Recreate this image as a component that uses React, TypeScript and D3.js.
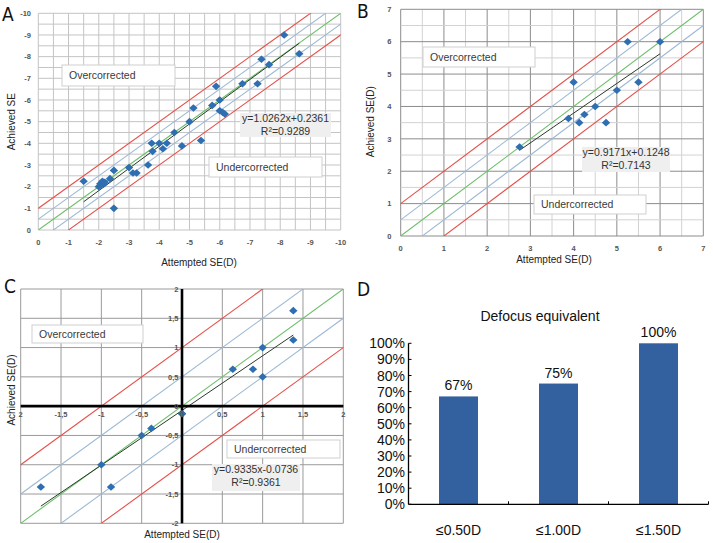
import React from 'react';
import * as d3 from 'd3';

// ---------- Data ----------
const aAttempted = [-1.5, -2.0, -2.05, -2.12, -2.15, -2.2, -2.37, -2.5, -2.5, -3.0, -3.13, -3.25, -3.63, -3.75, -3.78, -4.0, -4.12, -4.25, -4.5, -4.75, -5.0, -5.13, -5.38, -5.75, -5.88, -6.0, -6.0, -6.1, -6.17, -6.75, -7.25, -7.38, -7.63, -8.13, -8.63];
const aAchieved = [-2.25, -2.0, -2.13, -2.25, -2.1, -2.2, -2.37, -2.75, -1.0, -2.88, -2.63, -2.63, -3.0, -4.0, -3.63, -4.0, -3.75, -4.0, -4.5, -3.88, -5.0, -5.63, -4.13, -5.75, -6.63, -6.0, -5.5, -5.42, -5.35, -6.75, -6.75, -7.88, -7.63, -9.0, -8.13];

const bAttempted = [2.75, 3.88, 4.0, 4.13, 4.25, 4.5, 4.75, 5.0, 5.25, 5.5, 6.0];
const bAchieved = [2.75, 3.63, 4.75, 3.5, 3.75, 4.0, 3.5, 4.5, 6.0, 4.75, 6.0];

const cAttempted = [-1.75, -1.0, -0.88, -0.5, -0.38, 0.0, 0.63, 0.88, 1.0, 1.0, 1.38, 1.38];
const cAchieved = [-1.38, -1.0, -1.38, -0.5, -0.38, -0.13, 0.63, 0.63, 1.0, 0.5, 1.63, 1.13];

const regSlopes = [1.0262, 0.9171, 0.9335];
const regIntercepts = [0.2361, 0.1248, -0.0736];
const regR2 = ['0.9289', '0.7143', '0.9361'];

const aTicks = [0, -1, -2, -3, -4, -5, -6, -7, -8, -9, -10];
const bTicks = [0, 1, 2, 3, 4, 5, 6, 7];
const cTicks = [-2, -1.5, -1, -0.5, 0, 0.5, 1, 1.5, 2];
const cTickLabels = ['2', '-1,5', '-1', '-0,5', '0', '0,5', '1', '1,5', '2'];
const cYTickLabels = ['-2', '-1,5', '-1', '-0,5', '0', '0,5', '1', '1,5', '2'];

const diagOffsets = [-1, -0.5, 0, 0.5, 1];

const dCategories = ['≤0.50D', '≤1.00D', '≤1.50D'];
const dValues = [67, 75, 100];
const dTicks = [0, 10, 20, 30, 40, 50, 60, 70, 80, 90, 100];

// ---------- Styles ----------
const RED = '#e5514a';
const BLUE = '#9db9d4';
const GREEN = '#6cbf6a';
const DOT = '#2f6eb0';
const SANS = 'Arial, "Liberation Sans", Helvetica, sans-serif';
const COND = '"DejaVu Sans Condensed", "DejaVu Sans", sans-serif';

function diamond(x: number, y: number, key: string | number) {
  const w = 4.2, h = 3.8;
  return <path key={key} d={`M${x},${y - h}L${x + w},${y}L${x},${y + h}L${x - w},${y}Z`} fill={DOT} />;
}

type ScatterProps = {
  id: string;
  xRange: [number, number];
  yRange: [number, number];
  domain: [number, number];
  xs: number[];
  ys: number[];
  idx: number;
  gridColor: (v: number) => string;
  gridWidth: (v: number) => number;
};

function Scatter(p: ScatterProps) {
  const x = d3.scaleLinear().domain(p.domain).range(p.xRange);
  const y = d3.scaleLinear().domain(p.domain).range(p.yRange);
  const lo = Math.min(...p.domain), hi = Math.max(...p.domain);
  const grid = d3.range(lo, hi + 0.001, 0.5);
  const line = d3.line<[number, number]>().x(d => x(d[0])).y(d => y(d[1]));
  const s = regSlopes[p.idx], b = regIntercepts[p.idx];
  const xmin = d3.min(p.xs)!, xmax = d3.max(p.xs)!;
  const regLine = [xmin, xmax].map(v => [v, s * v + b] as [number, number]);
  const diagColor = (o: number) => (Math.abs(o) === 1 ? RED : o === 0 ? GREEN : BLUE);
  return (
    <g>
      <defs>
        <clipPath id={p.id}>
          <rect x={Math.min(...p.xRange)} y={Math.min(...p.yRange)} width={Math.abs(p.xRange[1] - p.xRange[0])} height={Math.abs(p.yRange[1] - p.yRange[0])} />
        </clipPath>
      </defs>
      {grid.map(v => (
        <line key={'gx' + v} x1={x(v)} x2={x(v)} y1={p.yRange[0]} y2={p.yRange[1]} stroke={p.gridColor(v)} strokeWidth={p.gridWidth(v)} />
      ))}
      {grid.map(v => (
        <line key={'gy' + v} y1={y(v)} y2={y(v)} x1={p.xRange[0]} x2={p.xRange[1]} stroke={p.gridColor(v)} strokeWidth={p.gridWidth(v)} />
      ))}
      <g clipPath={`url(#${p.id})`}>
        {diagOffsets.map(o => (
          <path key={'d' + o} d={line([[lo - 2, lo - 2 + o], [hi + 2, hi + 2 + o]])!} stroke={diagColor(o)} strokeWidth={1.1} fill="none" />
        ))}
      </g>
      <path d={line(regLine)!} stroke="#2a3a2a" strokeWidth={1} fill="none" />
      {p.xs.map((v, i) => diamond(x(v), y(p.ys[i]), i))}
    </g>
  );
}

function LabelBox({ x, y, w, h, text }: { x: number; y: number; w: number; h: number; text: string }) {
  return (
    <g>
      <rect x={x} y={y} width={w} height={h} fill="#fff" stroke="#cfcfcf" strokeWidth={1} />
      <text x={x + 7} y={y + h / 2 + 3.8} fontFamily={SANS} fontSize={10.5} fill="#3a3a3a">{text}</text>
    </g>
  );
}

function EqBox({ x, y, w, h, idx }: { x: number; y: number; w: number; h: number; idx: number }) {
  const b = regIntercepts[idx];
  const eq = `y=${regSlopes[idx]}x${b >= 0 ? '+' : '-'}${Math.abs(b).toFixed(4)}`;
  return (
    <g>
      <rect x={x} y={y} width={w} height={h} fill="#efefef" />
      <text x={x + w / 2} y={y + 9} textAnchor="middle" fontFamily={SANS} fontSize={10.5} fill="#333">{eq}</text>
      <text x={x + w / 2} y={y + 22} textAnchor="middle" fontFamily={SANS} fontSize={10.5} fill="#333">R²={regR2[idx]}</text>
    </g>
  );
}

export default function App() {
  // Panel A
  const ax = d3.scaleLinear().domain([0, -10]).range([38.3, 340.7]);
  const ay = d3.scaleLinear().domain([0, -10]).range([230, 13.3]);
  // Panel B
  const bx = d3.scaleLinear().domain([0, 7]).range([400.7, 703.3]);
  const by = d3.scaleLinear().domain([0, 7]).range([236, 9.3]);
  // Panel C
  const cx = d3.scaleLinear().domain([-2, 2]).range([20.7, 343.3]);
  const cy = d3.scaleLinear().domain([-2, 2]).range([523.3, 289]);
  // Panel D
  const dx = d3.scaleBand<string>().domain(dCategories).range([408.5, 708.5]).paddingInner(0.61).paddingOuter(0.305);
  const dy = d3.scaleLinear().domain([0, 100]).range([504.3, 343.3]);

  const tickStyle = { fontFamily: SANS, fontSize: 7.5, fontWeight: 700, fill: '#555' } as const;
  const titleStyle = { fontFamily: SANS, fontSize: 10, fill: '#222' } as const;

  return (
    <svg width={713} height={543} style={{ position: 'absolute', left: 0, top: 0, background: '#fff' }}>
      <rect width={713} height={543} fill="#fff" />

      {/* ---------- A ---------- */}
      <Scatter id="clipA" xRange={[38.3, 340.7]} yRange={[230, 13.3]} domain={[0, -10]} xs={aAttempted} ys={aAchieved} idx={0}
        gridColor={() => '#c4c4c4'} gridWidth={() => 1} />
      {aTicks.map(t => (
        <text key={'ayt' + t} x={31} y={ay(t) + 2.7} textAnchor="end" {...tickStyle}>{t}</text>
      ))}
      {aTicks.map(t => (
        <text key={'axt' + t} x={ax(t)} y={245} textAnchor="middle" {...tickStyle}>{t}</text>
      ))}
      <LabelBox x={62} y={65} w={113} h={21} text="Overcorrected" />
      <LabelBox x={209} y={157} w={113} h={20} text="Undercorrected" />
      <EqBox x={240} y={113} w={91} h={24} idx={0} />
      <text x={15} y={121.7} transform="rotate(-90 15 121.7)" textAnchor="middle" {...titleStyle}>Achieved SE</text>
      <text x={199} y={266} textAnchor="middle" {...titleStyle}>Attempted SE(D)</text>
      <text x={2} y={21} fontFamily={COND} fontSize={19} fill="#111">A</text>

      {/* ---------- B ---------- */}
      <Scatter id="clipB" xRange={[400.7, 703.3]} yRange={[236, 9.3]} domain={[0, 7]} xs={bAttempted} ys={bAchieved} idx={1}
        gridColor={v => (Number.isInteger(v) ? '#8c8c8c' : '#d2d2d2')} gridWidth={() => 1} />
      {bTicks.map(t => (
        <text key={'byt' + t} x={391.5} y={by(t) + 2.7} textAnchor="end" {...tickStyle}>{t}</text>
      ))}
      {bTicks.map(t => (
        <text key={'bxt' + t} x={bx(t)} y={251} textAnchor="middle" {...tickStyle}>{t}</text>
      ))}
      <LabelBox x={423} y={47} w={112} h={20} text="Overcorrected" />
      <LabelBox x={534} y={195} w={112} h={19} text="Undercorrected" />
      <EqBox x={582} y={147} w={88} h={25} idx={1} />
      <text x={374} y={121.7} transform="rotate(-90 374 121.7)" textAnchor="middle" {...titleStyle}>Achieved SE(D)</text>
      <text x={554} y={263} textAnchor="middle" {...titleStyle}>Attempted SE(D)</text>
      <text x={357} y={18} fontFamily={COND} fontSize={19} fill="#111">B</text>

      {/* ---------- C ---------- */}
      <Scatter id="clipC" xRange={[20.7, 343.3]} yRange={[523.3, 289]} domain={[-2, 2]} xs={cAttempted} ys={cAchieved} idx={2}
        gridColor={() => '#9a9a9a'} gridWidth={() => 1} />
      <line x1={cx(0)} x2={cx(0)} y1={289} y2={523.3} stroke="#000" strokeWidth={2.6} />
      <line x1={20.7} x2={343.3} y1={cy(0)} y2={cy(0)} stroke="#000" strokeWidth={2.6} />
      {cAttempted.map((v, i) => (Math.abs(v) < 0.05 ? diamond(cx(v), cy(cAchieved[i]), 'cz' + i) : null))}
      {cTicks.map((t, i) => (
        <text key={'cyt' + t} x={178.5} y={cy(t) + 2.7} textAnchor="end" {...tickStyle}>{cYTickLabels[i]}</text>
      ))}
      {cTicks.map((t, i) => (
        <text key={'cxt' + t} x={cx(t)} y={417} textAnchor="middle" {...tickStyle}>{cTickLabels[i]}</text>
      ))}
      <LabelBox x={32} y={325} w={111} h={18} text="Overcorrected" />
      <LabelBox x={227} y={440} w={113} h={18} text="Undercorrected" />
      <EqBox x={212} y={464} w={88} h={27} idx={2} />
      <text x={15} y={390} transform="rotate(-90 15 390)" textAnchor="middle" {...titleStyle}>Achieved SE(D)</text>
      <text x={182} y={538} textAnchor="middle" {...titleStyle}>Attempted SE(D)</text>
      <text x={4} y={293} fontFamily={COND} fontSize={19} fill="#111">C</text>

      {/* ---------- D ---------- */}
      <text x={357} y={296} fontFamily={COND} fontSize={19} fill="#111">D</text>
      <text x={540} y={320.5} textAnchor="middle" fontFamily={SANS} fontSize={14} fill="#111">Defocus equivalent</text>
      {dCategories.map((c, i) => (
        <rect key={'bar' + c} x={dx(c)!} y={dy(dValues[i])} width={dx.bandwidth()} height={dy(0) - dy(dValues[i])} fill="#33609e" />
      ))}
      {dCategories.map((c, i) => (
        <text key={'bl' + c} x={dx(c)! + dx.bandwidth() / 2} y={dy(dValues[i]) - 6} textAnchor="middle" fontFamily={SANS} fontSize={14} fill="#111">{dValues[i]}%</text>
      ))}
      <line x1={408.5} x2={408.5} y1={dy(100)} y2={dy(0)} stroke="#000" strokeWidth={1.3} />
      <line x1={408.5} x2={708.5} y1={dy(0)} y2={dy(0)} stroke="#000" strokeWidth={1.3} />
      {dTicks.map(t => (
        <g key={'dt' + t}>
          <line x1={408.5} x2={411.5} y1={dy(t)} y2={dy(t)} stroke="#000" strokeWidth={1} />
          <text x={405} y={dy(t) + 5} textAnchor="end" fontFamily={SANS} fontSize={14} fill="#111">{t}%</text>
        </g>
      ))}
      {dCategories.map(c => (
        <line key={'dxt' + c} x1={dx(c)! + dx.bandwidth() / 2 + dx.step() / 2} x2={dx(c)! + dx.bandwidth() / 2 + dx.step() / 2} y1={dy(0)} y2={dy(0) - 3} stroke="#000" strokeWidth={1} />
      ))}
      {dCategories.map(c => (
        <text key={'dxl' + c} x={dx(c)! + dx.bandwidth() / 2} y={535} textAnchor="middle" fontFamily={SANS} fontSize={14} fill="#111">{c}</text>
      ))}
    </svg>
  );
}
